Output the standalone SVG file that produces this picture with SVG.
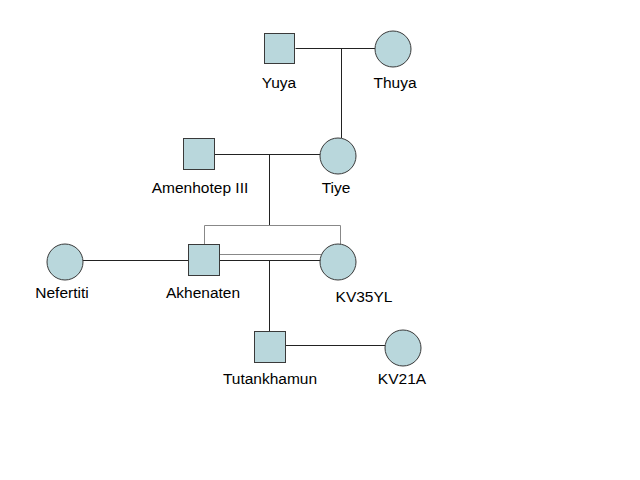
<svg xmlns="http://www.w3.org/2000/svg" width="640" height="480" viewBox="0 0 640 480">
<style>
.m{fill:#b9d7dc;stroke:#3a3a3a;stroke-width:1}
.l{stroke:#222;stroke-width:1;fill:none}
.g{stroke:#888;stroke-width:1;fill:none}
text{font-family:"Liberation Sans",Arial,sans-serif;font-size:15.5px;fill:#000;text-anchor:middle}
</style>
<rect width="640" height="480" fill="#fff"/>
<g id="connectors">
<path class="l" d="M295.5 48.5H375M341.5 48.5V138"/>
<path class="l" d="M214 154.5H320M269.5 154.5V225"/>
<path class="g" d="M204.5 244V225.5H340.5V245"/>
<path class="l" d="M83 260.5H188"/>
<path class="g" d="M219 254.5H321"/>
<path class="l" d="M219 260.5H321M269.5 260.5V331"/>
<path class="l" d="M285 345.5H385"/>
</g>
<g id="yuya"><rect class="m" x="264.5" y="33.5" width="30" height="30"/><text x="279" y="88">Yuya</text></g>
<g id="thuya"><circle class="m" cx="393" cy="49" r="18"/><text x="395" y="88">Thuya</text></g>
<g id="amenhotep"><rect class="m" x="183.5" y="138.5" width="31" height="31"/><text x="200" y="193">Amenhotep III</text></g>
<g id="tiye"><circle class="m" cx="338" cy="156" r="18"/><text x="336" y="193">Tiye</text></g>
<g id="nefertiti"><circle class="m" cx="65" cy="262" r="18"/><text x="62" y="298">Nefertiti</text></g>
<g id="akhenaten"><rect class="m" x="188.5" y="244.5" width="31" height="31"/><text x="203" y="298">Akhenaten</text></g>
<g id="kv35yl"><circle class="m" cx="338" cy="262" r="18"/><text x="364" y="302">KV35YL</text></g>
<g id="tutankhamun"><rect class="m" x="254.5" y="331.5" width="31" height="31"/><text x="270" y="384">Tutankhamun</text></g>
<g id="kv21a"><circle class="m" cx="403" cy="348" r="18"/><text x="402" y="384">KV21A</text></g>
</svg>
